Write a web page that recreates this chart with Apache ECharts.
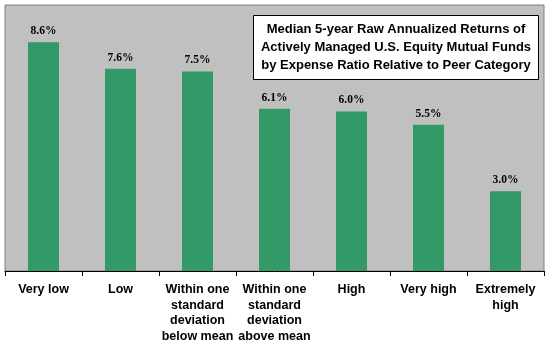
<!DOCTYPE html>
<html>
<head>
<meta charset="utf-8">
<script src="https://cdn.jsdelivr.net/npm/echarts@6/dist/echarts.min.js"></script>
<style>html,body{margin:0;padding:0;background:#fff;}#c{width:550px;height:350px;}</style>
</head>
<body>
<div id="c"></div>
<script>
var categories = [
  'Very low',
  'Low',
  'Within one\nstandard\ndeviation\nbelow mean',
  'Within one\nstandard\ndeviation\nabove mean',
  'High',
  'Very high',
  'Extremely\nhigh'
];
var returnsPct = [8.6, 7.6, 7.5, 6.1, 6.0, 5.5, 3.0];
var titleLines = [
  'Median 5-year Raw Annualized Returns of',
  'Actively Managed U.S. Equity Mutual Funds',
  'by Expense Ratio Relative to Peer Category'
];

var chart = echarts.init(document.getElementById('c'), null, {renderer: 'canvas'});
chart.setOption({
  animation: false,
  backgroundColor: '#ffffff',
  grid: {
    left: 5, right: 6, top: 5, bottom: 79,
    show: true, backgroundColor: '#C0C0C0', borderColor: '#808080', borderWidth: 1,
    containLabel: false
  },
  xAxis: {
    type: 'category',
    data: categories,
    axisLine: {lineStyle: {color: '#000', width: 1}},
    axisTick: {show: true, length: 5, lineStyle: {color: '#000'}},
    axisLabel: {
      interval: 0, margin: 11,
      color: '#000', fontFamily: 'Liberation Sans, Arial', fontWeight: 'bold', fontSize: 12.5,
      lineHeight: 15.5
    }
  },
  yAxis: {
    type: 'value', min: 0, max: 10,
    show: false, splitLine: {show: false}
  },
  series: [{
    type: 'bar',
    data: returnsPct,
    barWidth: 31,
    itemStyle: {color: '#339966'},
    label: {
      show: true, position: 'top', distance: 5,
      formatter: function (p) { return p.value.toFixed(1) + '%'; },
      color: '#000', fontFamily: 'Liberation Serif, Times New Roman', fontWeight: 'bold', fontSize: 11.5
    }
  }],
  graphic: [{
    type: 'group',
    children: [{
      type: 'rect',
      shape: {x: 253.5, y: 15.5, width: 285, height: 64, r: 0},
      style: {fill: '#ffffff', stroke: '#000', lineWidth: 1}
    }, {
      type: 'text',
      x: 396, y: 47,
      style: {
        text: titleLines.join('\n'),
        align: 'center', verticalAlign: 'middle',
        font: 'bold 13px "Liberation Sans", Arial',
        lineHeight: 18, fill: '#000'
      }
    }]
  }]
});
</script>
</body>
</html>
